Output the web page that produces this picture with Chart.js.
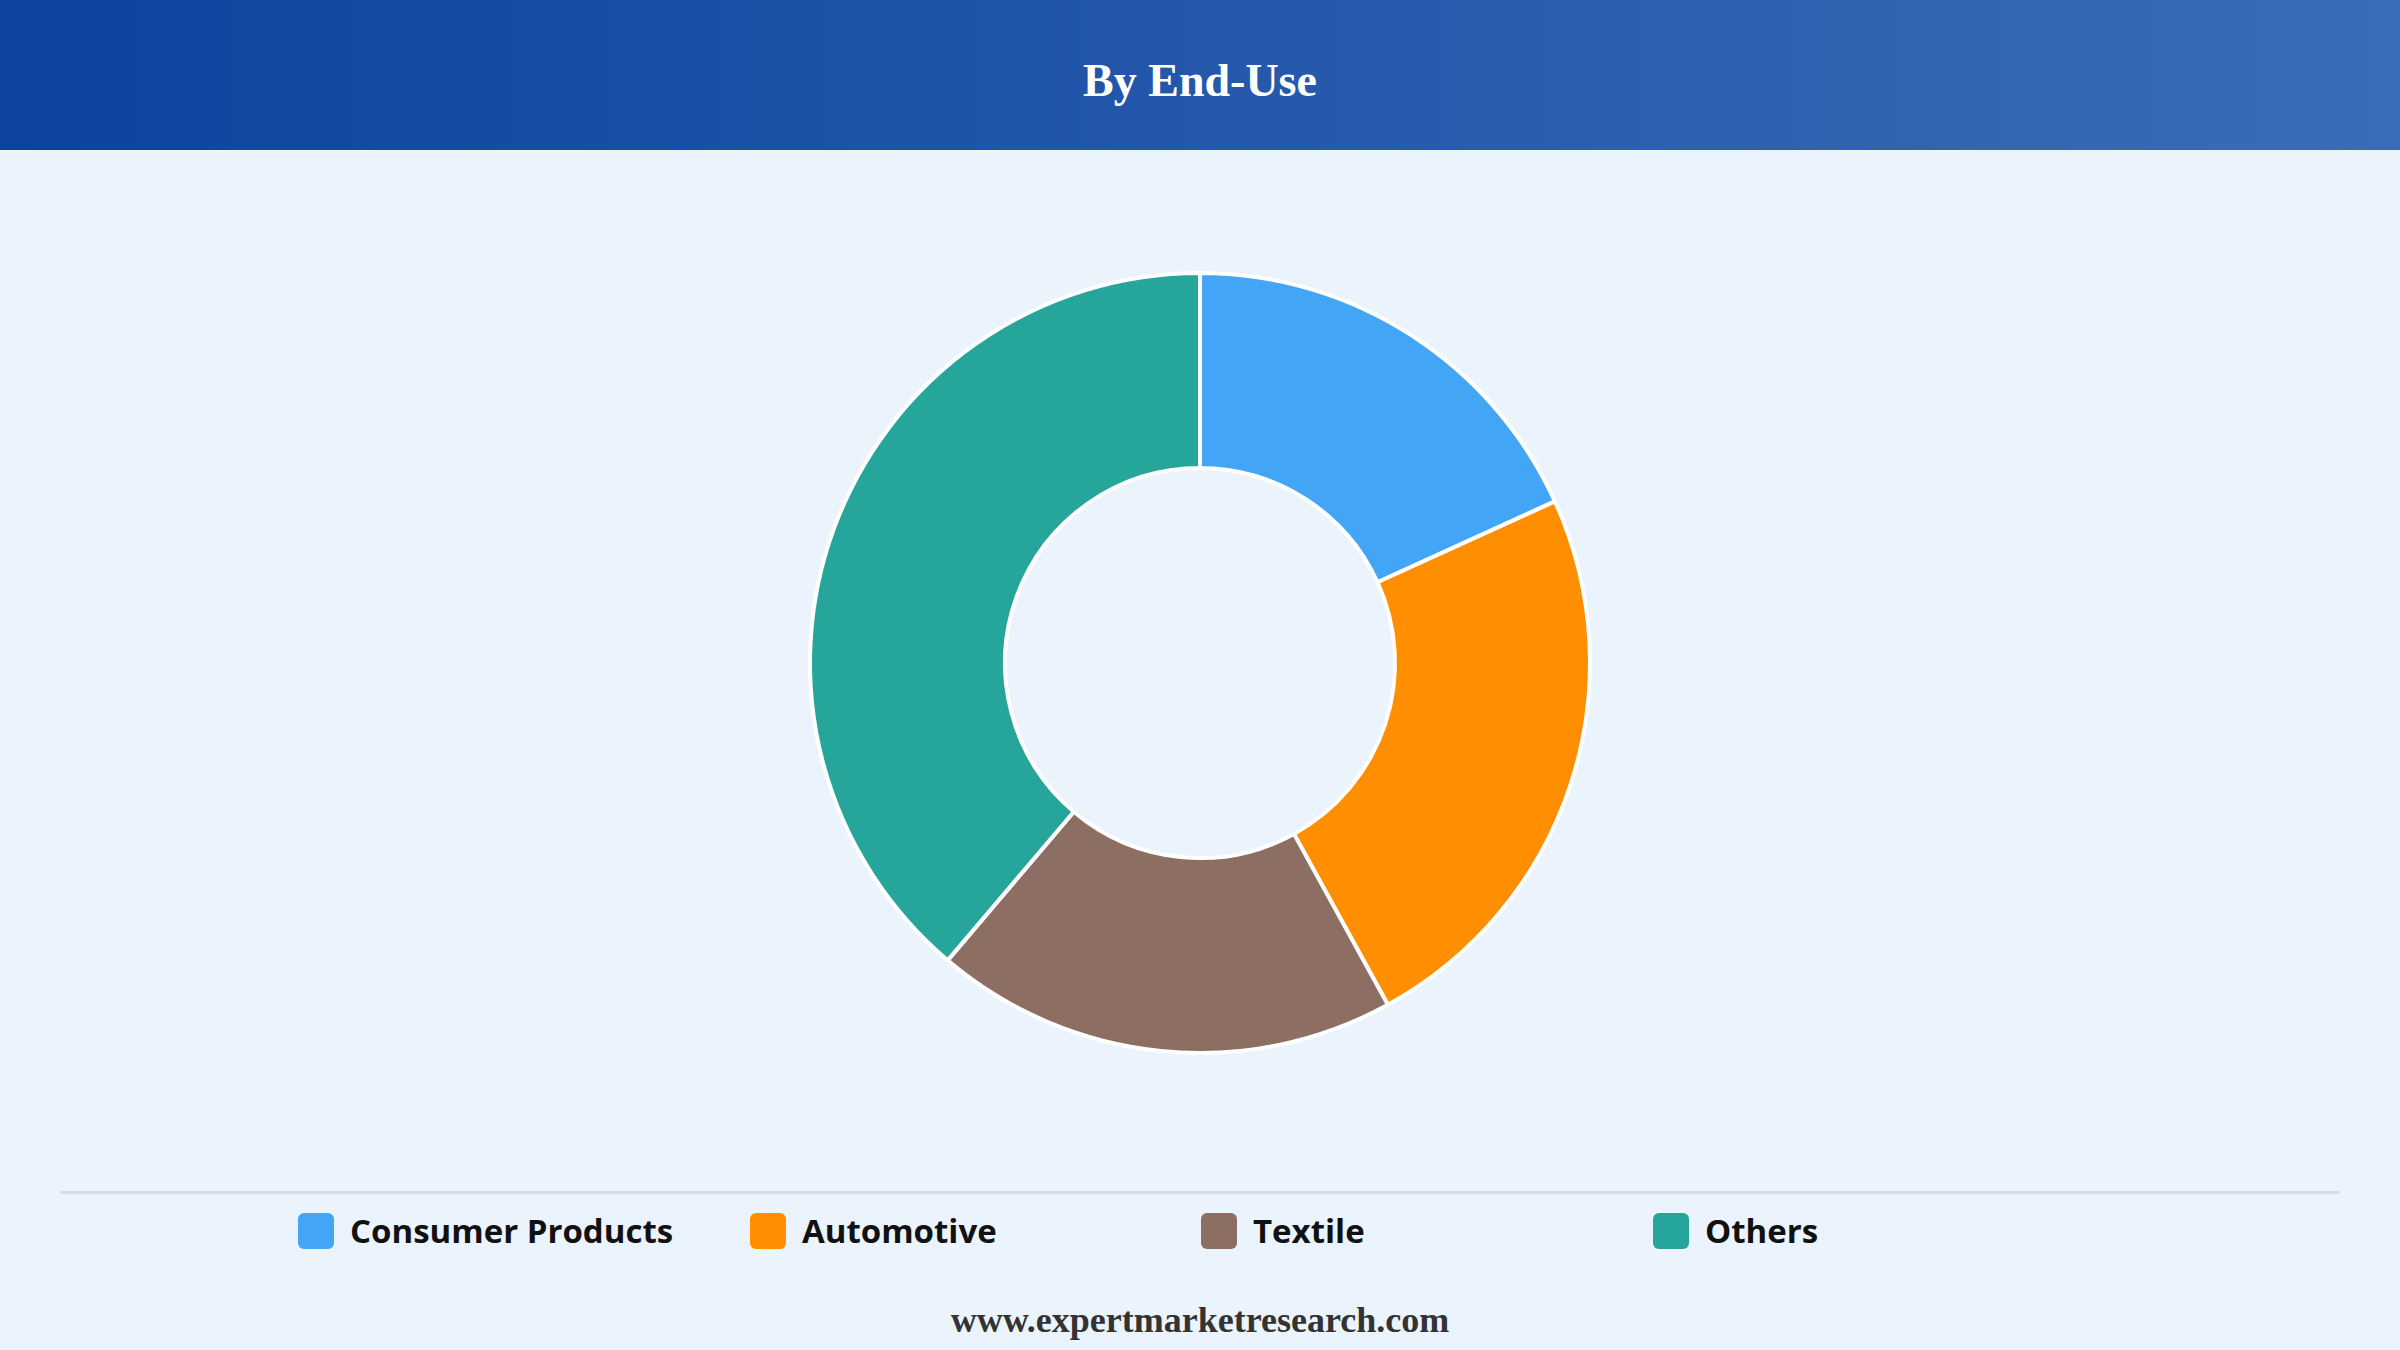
<!DOCTYPE html>
<html><head><meta charset="utf-8">
<script src="https://cdn.jsdelivr.net/npm/chart.js@4"></script>
<style>
html,body{margin:0;padding:0;width:2400px;height:1350px;background:#ebf3fc;overflow:hidden;font-family:"Open Sans","Noto Sans",sans-serif}
#hdr{position:absolute;left:0;top:0;width:2400px;height:150px;background:linear-gradient(90deg,#0d43a0,#3b6cb6);color:#fff;font:bold 46px "Liberation Serif",serif;display:flex;align-items:center;justify-content:center;padding-top:10px;box-sizing:border-box}
#wrap{position:absolute;left:0;top:150px;width:2400px;height:1026px}
#sep{position:absolute;left:60px;top:1191px;width:2280px;height:3px;background:#d9dde3}
#legend{position:absolute;top:1208px;left:0;width:2400px;height:44px}
.li{position:absolute;display:flex;align-items:center;font-weight:bold;font-size:33px;color:#111}
.sw{width:36px;height:36px;border-radius:6px;margin-right:16px}
#foot{position:absolute;top:1299px;width:2400px;text-align:center;font:bold 36px "Liberation Serif",serif;color:#333}
</style></head><body>
<div id="hdr">By End-Use</div>
<div id="wrap"><canvas id="c"></canvas></div>
<div id="sep"></div>
<div id="legend"></div>
<div id="foot">www.expertmarketresearch.com</div>
<script>
const categories=["Consumer Products","Automotive","Textile","Others"];
const values=[18.2,23.8,19.2,38.8];
const colors=["#42a5f5","#ff8f00","#8d6e63","#26a69a"];
const lg=document.getElementById('legend');
const lx=[298,750,1201,1653];
categories.forEach((c,i)=>{const d=document.createElement('div');d.className='li';d.style.left=lx[i]+'px';
d.innerHTML='<span class="sw" style="background:'+colors[i]+'"></span>'+c;lg.appendChild(d);});
new Chart(document.getElementById('c'),{type:'doughnut',
data:{labels:categories,datasets:[{data:values,backgroundColor:colors,borderColor:'#ffffff',borderWidth:4}]},
options:{responsive:true,maintainAspectRatio:false,animation:false,radius:390,cutout:'50%',
plugins:{legend:{display:false},tooltip:{enabled:false}}}});
</script>
</body></html>
